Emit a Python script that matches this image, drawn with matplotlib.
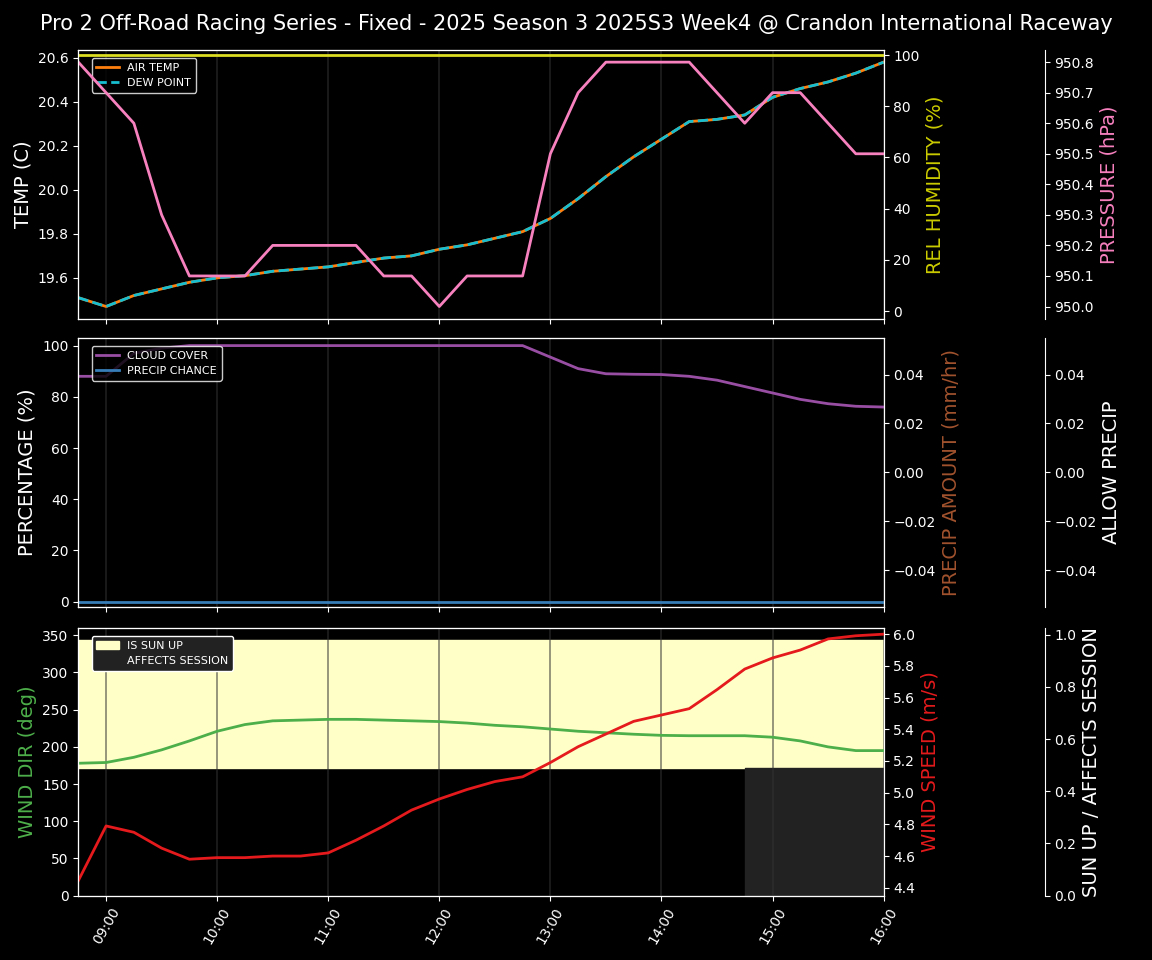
import matplotlib
matplotlib.use("Agg")
import matplotlib.pyplot as plt
import numpy as np

times = ["08:45","09:00","09:15","09:30","09:45","10:00","10:15","10:30","10:45","11:00",
         "11:15","11:30","11:45","12:00","12:15","12:30","12:45","13:00","13:15","13:30",
         "13:45","14:00","14:15","14:30","14:45","15:00","15:15","15:30","15:45","16:00"]
air_temp = [19.51,19.47,19.52,19.55,19.58,19.60,19.61,19.63,19.64,19.65,19.67,19.69,19.70,19.73,19.75,
            19.78,19.81,19.87,19.96,20.06,20.15,20.23,20.31,20.32,20.34,20.42,20.46,20.49,20.53,20.58]
dew_point = air_temp[:]
rel_humidity = [100]*30
pressure = [950.80,950.70,950.60,950.30,950.10,950.10,950.10,950.20,950.20,950.20,950.20,950.10,950.10,950.00,950.10,
            950.10,950.10,950.50,950.70,950.80,950.80,950.80,950.80,950.70,950.60,950.70,950.70,950.60,950.50,950.50]
cloud_cover = [88,88,97,99,100,100,100,100,100,100,100,100,100,100,100,100,100,95.5,91,89,88.8,88.7,88,86.5,84,81.5,79,77.3,76.3,76]
precip_chance = [0]*30
precip_amount = [0]*30
allow_precip = [0]*30
wind_dir = [178,179,186,196,208,221,230,235,236,237,237,236,235,234,232,229,227,224,221,219,217,215.5,215,215,215,213,208,200,195,195]
wind_speed = [4.445,4.79,4.75,4.65,4.58,4.59,4.59,4.60,4.60,4.62,4.70,4.79,4.89,4.96,5.02,5.07,5.10,5.19,5.29,5.37,
              5.45,5.49,5.53,5.65,5.78,5.85,5.90,5.97,5.99,6.00]
sun_up = [1]*30
affects_session = [0]*24 + [1]*6
tick_labels = ["09:00","10:00","11:00","12:00","13:00","14:00","15:00","16:00"]

def hrs(s):
    h, m = s.split(":")
    return int(h) + int(m)/60
x = np.array([hrs(t) for t in times])
ticks = [hrs(t) for t in tick_labels]

plt.rcParams.update({"text.color":"white","axes.labelcolor":"white","xtick.color":"white",
                     "ytick.color":"white","axes.edgecolor":"white"})
fig = plt.figure(figsize=(11.52, 9.6), dpi=100, facecolor="black")
L, W = 0.068, 0.699
ax1 = fig.add_axes([L, 0.668, W, 0.280])
ax2 = fig.add_axes([L, 0.368, W, 0.280], sharex=ax1)
ax3 = fig.add_axes([L, 0.067, W, 0.279], sharex=ax1)
fig.suptitle("Pro 2 Off-Road Racing Series - Fixed - 2025 Season 3 2025S3 Week4 @ Crandon International Raceway",
             fontsize=15, y=0.985, color="white")

for ax in (ax1, ax2, ax3):
    ax.set_facecolor("black")
    for t in ticks:
        ax.axvline(t, color="#333333", lw=1.2, alpha=0.6, zorder=0)
    ax.set_xlim(x[0], x[-1])
    ax.set_xticks(ticks)
ax3.set_xticklabels(tick_labels, rotation=60)
plt.setp(ax1.get_xticklabels(), visible=False)
plt.setp(ax2.get_xticklabels(), visible=False)

# panel 1
l1, = ax1.plot(x, air_temp, color="#ff7f0e", lw=2, label="AIR TEMP")
l2, = ax1.plot(x, dew_point, color="#17becf", lw=2, ls="--", label="DEW POINT")
ax1.set_ylabel("TEMP (C)", fontsize=14)
ax1b = ax1.twinx()
ax1b.plot(x, rel_humidity, color="#dddd22", lw=2)
ax1b.set_ylim(-3, 102)
ax1b.set_ylabel("REL HUMIDITY (%)", color="#cccc00", fontsize=14)
ax1c = ax1.twinx()
ax1c.spines["right"].set_position(("axes", 1.2))
ax1c.plot(x, pressure, color="#f781bf", lw=2)
ax1c.set_ylabel("PRESSURE (hPa)", color="#f781bf", fontsize=14)
ax1c.set_ylim(949.96, 950.84)
ax1.legend(handles=[l1, l2], loc="upper left", fontsize=8, facecolor="black", edgecolor="white",
           bbox_to_anchor=(0.01, 0.99))

# panel 2
c1, = ax2.plot(x, cloud_cover, color="#984ea3", lw=2, label="CLOUD COVER")
c2, = ax2.plot(x, precip_chance, color="#377eb8", lw=2, label="PRECIP CHANCE")
ax2.set_ylim(-2, 103)
ax2.set_ylabel("PERCENTAGE (%)", fontsize=14)
ax2b = ax2.twinx()
ax2b.plot(x, precip_amount, color="#a0522d", lw=0)
ax2b.set_ylim(-0.055, 0.055)
ax2b.set_ylabel("PRECIP AMOUNT (mm/hr)", color="#a0522d", fontsize=14)
ax2c = ax2.twinx()
ax2c.spines["right"].set_position(("axes", 1.2))
ax2c.plot(x, allow_precip, lw=0)
ax2c.set_ylim(-0.055, 0.055)
ax2c.set_ylabel("ALLOW PRECIP", fontsize=14)
ax2.legend(handles=[c1, c2], loc="upper left", fontsize=8, facecolor="black", edgecolor="white",
           bbox_to_anchor=(0.01, 0.99))

# panel 3
ax3c = ax3.twinx()
ax3c.spines["right"].set_position(("axes", 1.2))
ax3c.set_ylim(0, 1.026)
su = np.array(sun_up); af = np.array(affects_session)
f1 = ax3c.fill_between(x, 0.49, 0.49 + 0.49*su, where=su > 0, color="#ffffc8", step="post", label="IS SUN UP", zorder=0)
f2 = ax3c.fill_between(x, 0, 0.49, where=af > 0, color="#222222", label="AFFECTS SESSION", zorder=0)
ax3c.set_ylabel("SUN UP / AFFECTS SESSION", fontsize=14)
ax3.set_zorder(ax3c.get_zorder() + 1); ax3.patch.set_visible(False)
ax3.plot(x, wind_dir, color="#4daf4a", lw=2)
ax3.set_ylim(0, 360)
ax3.set_ylabel("WIND DIR (deg)", color="#4daf4a", fontsize=14)
ax3b = ax3.twinx()
ax3b.plot(x, wind_speed, color="#e41a1c", lw=2)
ax3b.set_ylim(4.35, 6.04)
ax3b.set_ylabel("WIND SPEED (m/s)", color="#e41a1c", fontsize=14)
ax3.legend(handles=[f1, f2], loc="upper left", fontsize=8, facecolor="#222222", edgecolor="white",
           bbox_to_anchor=(0.01, 0.99), framealpha=1)
ax3c.set_facecolor("black")

fig.savefig("out.png", dpi=100, facecolor="black")
